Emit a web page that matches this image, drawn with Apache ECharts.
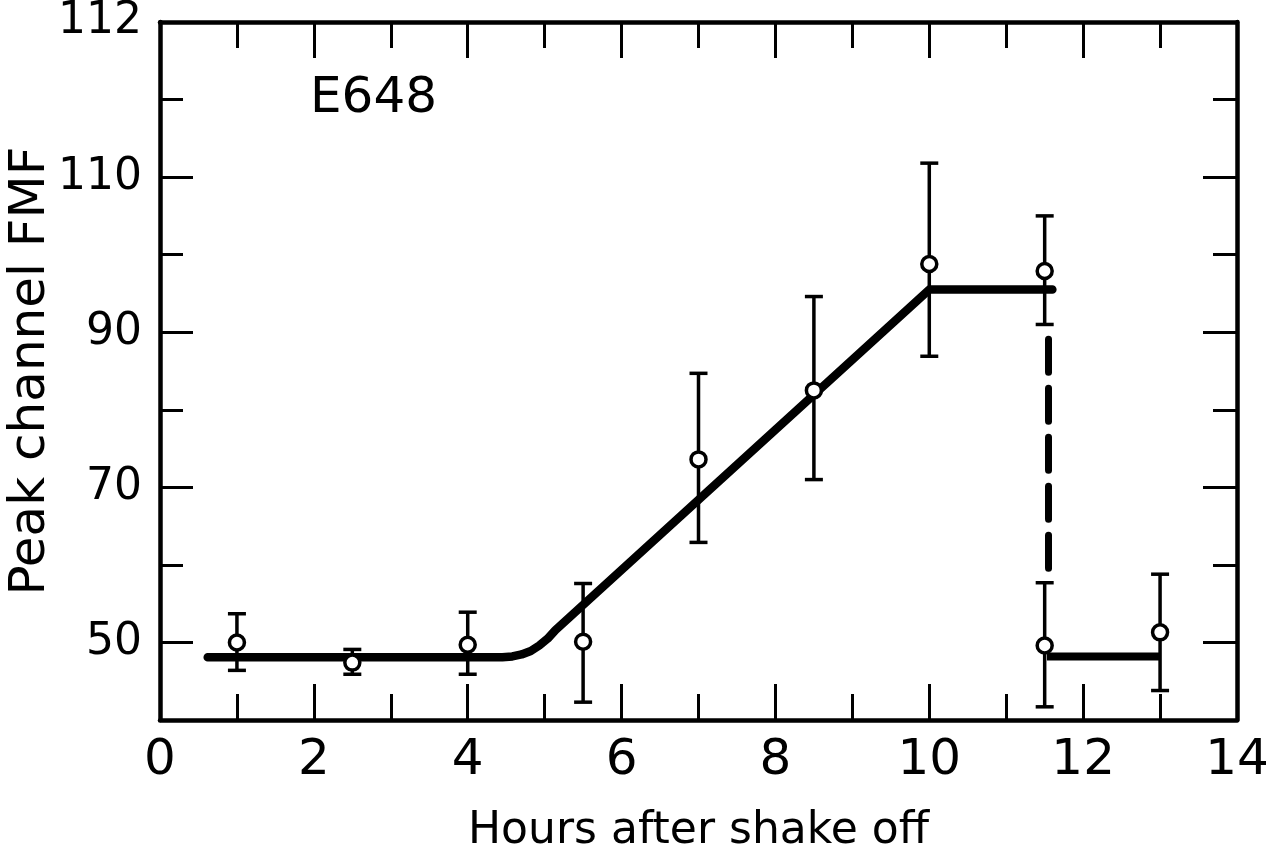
<!DOCTYPE html>
<html>
<head>
<meta charset="utf-8">
<script src="https://cdn.jsdelivr.net/npm/echarts@6/dist/echarts.min.js"></script>
<style>
html, body { margin: 0; padding: 0; background: #fff; }
#chart { width: 1274px; height: 864px; }
</style>
</head>
<body>
<div id="chart"></div>
<script>
// measured points (hours after shake off, peak channel)
var hours   = [1, 2.5, 4, 5.5, 7, 8.5, 10, 11.5, 11.5, 13];
var peak    = [50.0, 47.4, 49.7, 50.1, 73.6, 82.5, 98.8, 97.9, 49.6, 51.3];
var errHigh = [53.7, 49.1, 53.9, 57.6, 84.7, 94.6, 111.8, 105.0, 57.7, 58.8];
var errLow  = [46.4, 45.9, 45.9, 42.3, 62.9, 71.0, 86.9, 91.0, 41.7, 43.8];

// hand drawn curve
var fitX = [0.62, 4.45, 4.58, 4.7, 4.82, 4.93, 5.04, 5.14, 10.0, 11.6];
var fitY = [48.1, 48.1, 48.2, 48.45, 48.9, 49.6, 50.5, 51.6, 95.5, 95.5];
var dropX = [11.55, 11.55];
var dropY = [89.1, 59.4];
var lowX = [11.53, 12.99];
var lowY = [48.2, 48.2];

var xTickLabels = [0, 2, 4, 6, 8, 10, 12, 14];
var yMajor = [50, 70, 90, 110, 130];
var yMinor = [60, 80, 100, 120];
var yLabelText = { 50: '50', 70: '70', 90: '90', 110: '110', 130: '112' };

var FONT = 'DejaVu Sans';

function pairs(xs, ys) {
  var out = [];
  for (var i = 0; i < xs.length; i++) out.push([xs[i], ys[i]]);
  return out;
}

var chart = echarts.init(document.getElementById('chart'));

var tickStyle = { color: '#000', width: 3 };
var lineStyle = { color: '#000', width: 4.5 };

function xAx(pos, withLabels) {
  return {
    type: 'value', min: 0, max: 14, interval: 2, position: pos,
    axisLine: { show: true, onZero: false, lineStyle: lineStyle },
    axisTick: { show: true, inside: true, length: 36, lineStyle: tickStyle },
    minorTick: { show: true, splitNumber: 2, length: 26, lineStyle: tickStyle },
    splitLine: { show: false },
    axisLabel: withLabels ? {
      show: true, margin: 16, color: '#000', fontFamily: FONT, fontSize: 50,
      formatter: function (v) { return xTickLabels.indexOf(v) >= 0 ? String(v) : ''; }
    } : { show: false },
    name: withLabels ? 'Hours after shake off' : '',
    nameLocation: 'middle', nameGap: 90, nameMoveOverlap: false,
    nameTextStyle: { color: '#000', fontFamily: FONT, fontSize: 44 }
  };
}

function yAx(pos, ticks, len, withLine, withLabels) {
  return {
    type: 'value', min: 40, max: 130, position: pos,
    axisLine: { show: withLine, onZero: false, lineStyle: lineStyle },
    axisTick: { show: true, inside: true, length: len, customValues: ticks, lineStyle: tickStyle },
    splitLine: { show: false },
    axisLabel: withLabels ? {
      show: true, margin: 18, color: '#000', fontFamily: FONT, fontSize: 44,
      customValues: ticks,
      formatter: function (v) { return yLabelText[v] || ''; }
    } : { show: false },
    name: withLabels ? 'Peak channel FMF' : '',
    nameLocation: 'middle', nameGap: 104, nameMoveOverlap: false,
    nameTextStyle: { color: '#000', fontFamily: FONT, fontSize: 50 }
  };
}

var option = {
  animation: false,
  backgroundColor: '#fff',
  grid: { left: 160, right: 37, top: 22, bottom: 144, outerBoundsMode: 'none', containLabel: false },
  xAxis: [xAx('bottom', true), xAx('top', false)],
  yAxis: [
    yAx('left', yMajor, 33, true, true),
    yAx('left', yMinor, 23, false, false),
    yAx('right', yMajor, 34, true, false),
    yAx('right', yMinor, 24, false, false)
  ],
  graphic: [{
    type: 'text', left: 310, top: 74,
    style: { text: 'E648', font: '50px "DejaVu Sans"', fill: '#000' }
  }],
  series: [
    {
      type: 'line', data: pairs(fitX, fitY), symbol: 'none', z: 2,
      lineStyle: { color: '#000', width: 8.5, cap: 'round', join: 'round' }
    },
    {
      type: 'line', data: pairs(dropX, dropY), symbol: 'none', z: 2,
      lineStyle: { color: '#000', width: 7, type: [33, 16], cap: 'round' }
    },
    {
      type: 'line', data: pairs(lowX, lowY), symbol: 'none', z: 2,
      lineStyle: { color: '#000', width: 8 }
    },
    {
      type: 'custom', z: 3,
      data: hours.map(function (h, i) { return [h, errLow[i], errHigh[i]]; }),
      encode: { x: 0, y: [1, 2] },
      renderItem: function (params, api) {
        var x = api.value(0);
        var lo = api.coord([x, api.value(1)]);
        var hi = api.coord([x, api.value(2)]);
        var w = 9;
        var st = { stroke: '#000', lineWidth: 3.5 };
        return {
          type: 'group',
          children: [
            { type: 'line', shape: { x1: lo[0], y1: lo[1], x2: hi[0], y2: hi[1] }, style: st },
            { type: 'line', shape: { x1: hi[0] - w, y1: hi[1], x2: hi[0] + w, y2: hi[1] }, style: st },
            { type: 'line', shape: { x1: lo[0] - w, y1: lo[1], x2: lo[0] + w, y2: lo[1] }, style: st }
          ]
        };
      }
    },
    {
      type: 'scatter', z: 4, symbol: 'circle', symbolSize: 15,
      data: pairs(hours, peak),
      itemStyle: { color: '#fff', borderColor: '#000', borderWidth: 3.5, opacity: 1 }
    }
  ]
};

chart.setOption(option);
</script>
</body>
</html>
